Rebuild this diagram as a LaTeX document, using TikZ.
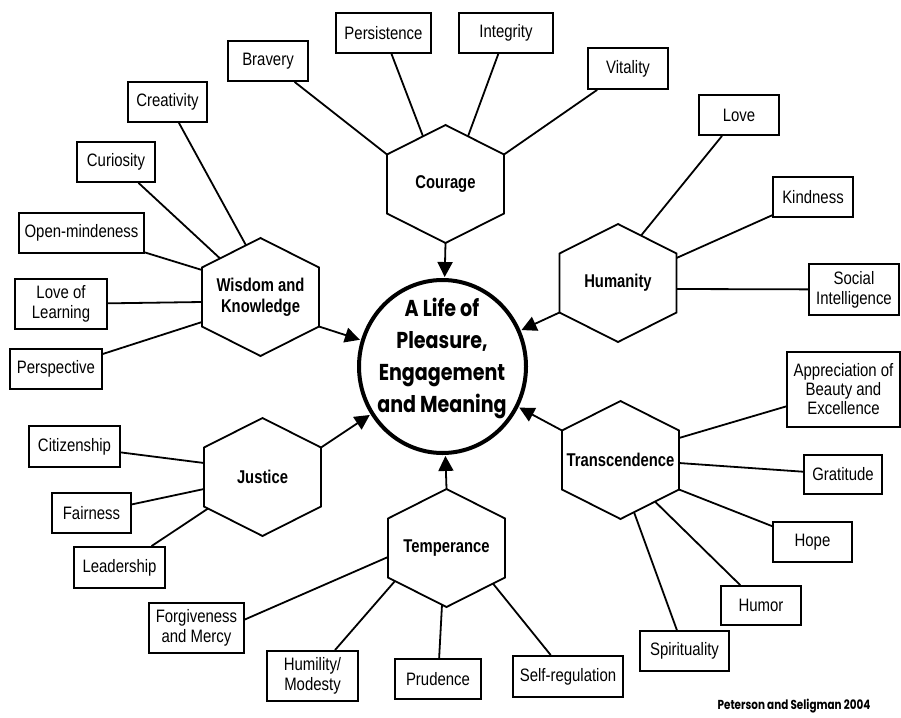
\documentclass[tikz,border=0pt]{standalone}
\usepackage{fontspec}
\setmainfont[FakeStretch=0.83]{Liberation Sans}
\newfontfamily\hexfont[FakeStretch=0.8]{Liberation Sans}
\newfontfamily\circfont[FakeStretch=0.83]{Poppins}
\newfontfamily\creditfont[FakeStretch=0.8]{Poppins}
\usetikzlibrary{arrows.meta,shapes.geometric}
\newcommand{\hexshape}[1]{\draw[hexline] (#1) ++(0,-59) -- ++(58.5,29.5) -- ++(0,59) -- ++(-58.5,29.5) -- ++(-58.5,-29.5) -- ++(0,-59) -- cycle;}
\tikzset{
  box/.style={draw, line width=1.8pt, inner sep=0pt, align=center, font=\fontsize{18}{20}\selectfont},
  conn/.style={line width=1.8pt},
  hexlabel/.style={font=\hexfont\bfseries\fontsize{18.5}{21}\selectfont, align=center, inner sep=0pt},
  hexline/.style={line width=1.8pt, line join=miter},
  toarrow/.style={line width=1.8pt, shorten >=1pt, -{Triangle[length=15pt,width=15pt]}},
}
\begin{document}
\begin{tikzpicture}[x=1pt,y=-1pt]
\useasboundingbox (0,0) rectangle (901,717);

% central goal
\node[ellipse, draw, line width=4pt, minimum width=167pt, minimum height=173pt, inner sep=0pt] (goal) at (442.5,366.5) {};
\node[font=\circfont\bfseries\fontsize{23}{32}\selectfont, align=center, inner sep=0pt] (goaltext) at (442,358) {A Life of\\Pleasure,\\Engagement\\and Meaning};

% hexagon labels
\node[hexlabel] (cou) at (445.5,184) {Courage};
\node[hexlabel] (wis) at (260.5,297) {Wisdom and\\Knowledge};
\node[hexlabel] (hum) at (618,283) {Humanity};
\node[hexlabel] (jus) at (262.5,477) {Justice};
\node[hexlabel] (tem) at (446.5,548) {Temperance};
\node[hexlabel] (tra) at (620.5,460) {Transcendence};

\hexshape{cou}
\hexshape{wis}
\hexshape{hum}
\hexshape{jus}
\hexshape{tem}
\hexshape{tra}

% connection points on hexagons
\coordinate (couBra) at (387,154.5);
\coordinate (couPer) at (423,136.3);
\coordinate (couInt) at (468,136.3);
\coordinate (couVit) at (504,154.5);
\coordinate (couOut) at (445.5,243);

\coordinate (wisCre) at (246,245.3);
\coordinate (wisCur) at (220,258.4);
\coordinate (wisOpe) at (202,270);
\coordinate (wisLov) at (202,302);
\coordinate (wisPer) at (202,322);
\coordinate (wisOut) at (319,326.5);

\coordinate (humLov) at (641,235.6);
\coordinate (humKin) at (676.5,258);
\coordinate (humSoc) at (676.5,289);
\coordinate (humOut) at (559.5,312.5);

\coordinate (jusCit) at (204,463);
\coordinate (jusFai) at (204,489);
\coordinate (jusLea) at (208,508.5);
\coordinate (jusOut) at (321,447.5);

\coordinate (temFor) at (388,557);
\coordinate (temHum) at (395,581);
\coordinate (temPru) at (442,604.7);
\coordinate (temSel) at (493,583.6);
\coordinate (temOut) at (446.5,489);

\coordinate (traApp) at (679,438);
\coordinate (traGra) at (679,463);
\coordinate (traHop) at (679,489.5);
\coordinate (traHum) at (655,501.6);
\coordinate (traSpi) at (634,512.2);
\coordinate (traOut) at (562,430.5);

% boxes
\node[box, minimum width=80pt, minimum height=40pt] (bravery) at (268,61) {Bravery};
\node[box, minimum width=95pt, minimum height=40pt] (persistence) at (383.5,33) {Persistence};
\node[box, minimum width=94pt, minimum height=40pt] (integrity) at (506,33) {Integrity};
\node[box, minimum width=80pt, minimum height=41pt] (vitality) at (628,68.5) {Vitality};

\node[box, minimum width=79pt, minimum height=40pt] (creativity) at (167.5,102) {Creativity};
\node[box, minimum width=78pt, minimum height=40pt] (curiosity) at (116,162) {Curiosity};
\node[box, minimum width=125pt, minimum height=40pt] (openmind) at (81.5,233) {Open-mindeness};
\node[box, minimum width=92pt, minimum height=50pt] (lovelearn) at (61,304) {Love of\\Learning};
\node[box, minimum width=92pt, minimum height=40pt] (perspective) at (56,369) {Perspective};

\node[box, minimum width=80pt, minimum height=40pt] (love) at (739,115) {Love};
\node[box, minimum width=80pt, minimum height=40pt] (kindness) at (813,197) {Kindness};
\node[box, minimum width=90pt, minimum height=51pt] (social) at (854,289.5) {Social\\Intelligence};

\node[box, minimum width=91pt, minimum height=41pt] (citizenship) at (74.5,446.5) {Citizenship};
\node[box, minimum width=79pt, minimum height=40pt] (fairness) at (91.5,513) {Fairness};
\node[box, minimum width=91pt, minimum height=41pt] (leadership) at (119.5,567.5) {Leadership};

\node[box, minimum width=95pt, minimum height=50pt] (forgiveness) at (196.5,628) {Forgiveness\\and Mercy};
\node[box, minimum width=91pt, minimum height=50pt] (humility) at (312.5,676) {Humility/\\Modesty};
\node[box, minimum width=86pt, minimum height=40pt] (prudence) at (438,679) {Prudence};
\node[box, minimum width=110pt, minimum height=41pt] (selfreg) at (568,676.5) {Self-regulation};

\node[box, minimum width=113pt, minimum height=75pt, font=\fontsize{18}{19}\selectfont] (appreciation) at (843.5,389.5) {Appreciation of\\Beauty and\\Excellence};
\node[box, minimum width=78pt, minimum height=39pt] (gratitude) at (843,474.5) {Gratitude};
\node[box, minimum width=79pt, minimum height=40pt] (hope) at (812.5,542) {Hope};
\node[box, minimum width=80pt, minimum height=39pt] (humor) at (761,605.5) {Humor};
\node[box, minimum width=89pt, minimum height=40pt] (spirituality) at (684.5,651) {Spirituality};

% connectors
\draw[conn] (bravery) -- (couBra);
\draw[conn] (persistence) -- (couPer);
\draw[conn] (integrity) -- (couInt);
\draw[conn] (vitality) -- (couVit);

\draw[conn] (creativity) -- (wisCre);
\draw[conn] (curiosity) -- (wisCur);
\draw[conn] (openmind) -- (wisOpe);
\draw[conn] (lovelearn) -- (wisLov);
\draw[conn] (perspective) -- (wisPer);

\draw[conn] (love) -- (humLov);
\draw[conn] (kindness) -- (humKin);
\draw[conn] (social) -- (humSoc);

\draw[conn] (citizenship) -- (jusCit);
\draw[conn] (fairness) -- (jusFai);
\draw[conn] (leadership) -- (jusLea);

\draw[conn] (forgiveness.10) -- (temFor);
\draw[conn] (humility) -- (temHum);
\draw[conn] (prudence) -- (temPru);
\draw[conn] (selfreg) -- (temSel);

\draw[conn] (appreciation) -- (traApp);
\draw[conn] (gratitude) -- (traGra);
\draw[conn] (hope) -- (traHop);
\draw[conn] (humor) -- (traHum);
\draw[conn] (spirituality) -- (traSpi);

% arrows into the goal
\draw[toarrow] (couOut) -- (goal);
\draw[toarrow] (wisOut) -- (goal);
\draw[toarrow] (humOut) -- (goal);
\draw[toarrow] (jusOut) -- (goal);
\draw[toarrow] (temOut) -- (goal);
\draw[toarrow] (traOut) -- (goal);

% credit
\node[font=\creditfont\bfseries\fontsize{13}{15}\selectfont, inner sep=0pt] (credit) at (794,706) {Peterson and Seligman 2004};
\end{tikzpicture}
\end{document}
